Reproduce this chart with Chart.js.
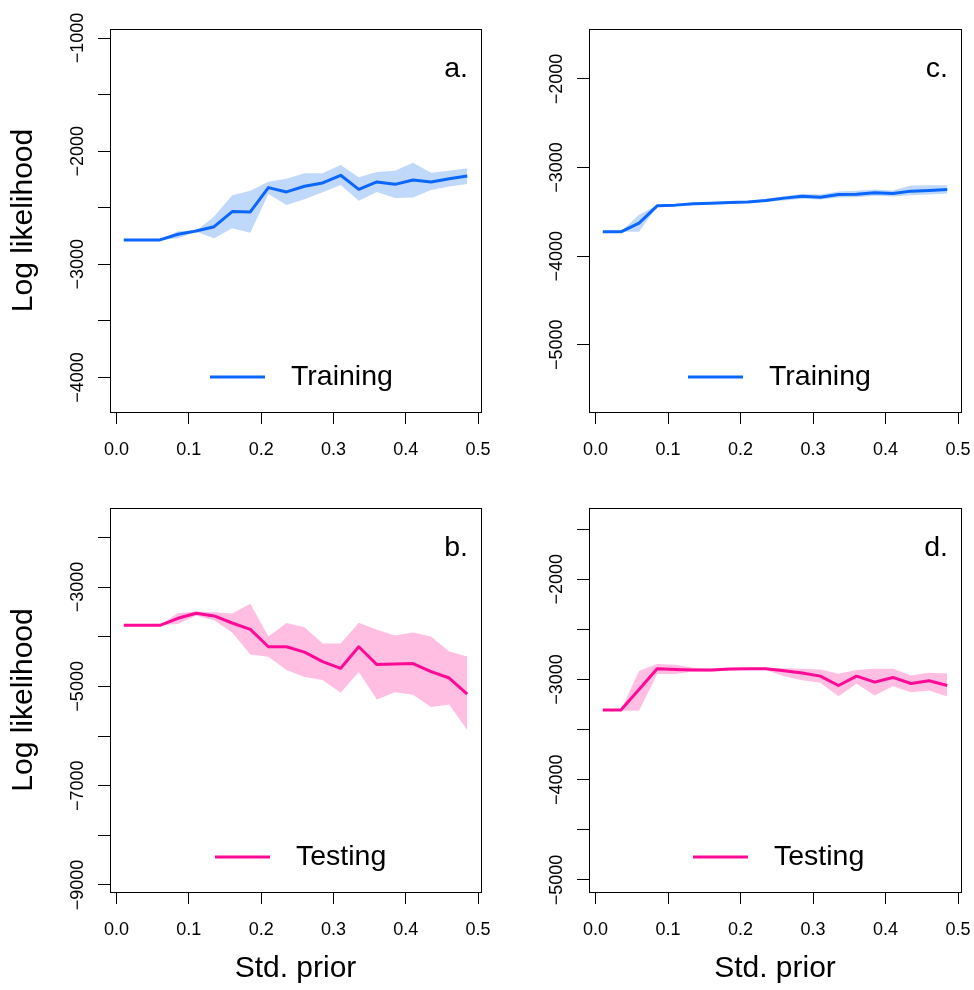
<!DOCTYPE html>
<html>
<head>
<meta charset="utf-8">
<script src="https://cdn.jsdelivr.net/npm/chart.js@4.4.0/dist/chart.umd.min.js"></script>
<style>
    html, body { margin: 0; padding: 0; background: #fff; }
    #wrap { position: relative; width: 974px; height: 990px; }
    .panel { position: absolute; }
</style>
</head>
<body>
<div id="wrap">
    <canvas id="pa" class="panel" width="500" height="480" style="left:0;top:0"></canvas>
    <canvas id="pc" class="panel" width="487" height="480" style="left:487px;top:0"></canvas>
    <canvas id="pb" class="panel" width="500" height="510" style="left:0;top:480px"></canvas>
    <canvas id="pd" class="panel" width="487" height="510" style="left:487px;top:480px"></canvas>
</div>
<script>
// values
const stdPrior = [0.010, 0.035, 0.060, 0.085, 0.110, 0.135, 0.160, 0.185, 0.210, 0.235,
                  0.260, 0.285, 0.310, 0.335, 0.360, 0.385, 0.410, 0.435, 0.460, 0.485];

const trainA   = [-2784, -2784, -2784, -2734, -2705, -2667, -2534, -2537, -2322, -2360,
                  -2310, -2281, -2213, -2337, -2272, -2293, -2254, -2272, -2243, -2219];
const trainAHi = [-2784, -2784, -2784, -2708, -2705, -2578, -2390, -2349, -2269, -2243,
                  -2196, -2196, -2122, -2231, -2184, -2172, -2101, -2190, -2172, -2151];
const trainALo = [-2784, -2784, -2784, -2770, -2711, -2770, -2681, -2720, -2378, -2475,
                  -2425, -2363, -2299, -2437, -2360, -2413, -2410, -2343, -2313, -2290];

const testB   = [-3771, -3771, -3771, -3629, -3528, -3582, -3724, -3852, -4203, -4203,
                 -4311, -4501, -4636, -4203, -4561, -4548, -4541, -4703, -4832, -5156];
const testBHi = [-3771, -3771, -3771, -3521, -3494, -3507, -3534, -3338, -3994, -3724,
                 -3811, -4136, -4136, -3717, -3859, -3974, -3913, -3994, -4298, -4399];
const testBLo = [-3771, -3771, -3771, -3744, -3575, -3670, -3913, -4359, -4406, -4670,
                 -4811, -4872, -5129, -4710, -5264, -5116, -5170, -5413, -5366, -5886];

const trainC   = [-3725, -3725, -3627, -3432, -3424, -3409, -3402, -3394, -3390, -3372,
                  -3345, -3323, -3334, -3304, -3300, -3285, -3293, -3266, -3259, -3248];
const trainCHi = [-3725, -3725, -3533, -3424, -3417, -3402, -3394, -3387, -3379, -3353,
                  -3323, -3297, -3304, -3270, -3263, -3248, -3259, -3203, -3199, -3199];
const trainCLo = [-3725, -3725, -3725, -3439, -3432, -3417, -3409, -3402, -3398, -3387,
                  -3372, -3353, -3360, -3338, -3334, -3319, -3327, -3312, -3304, -3293];

const testD   = [-3305, -3305, -3101, -2893, -2900, -2906, -2906, -2896, -2893, -2893,
                 -2913, -2936, -2967, -3060, -2967, -3027, -2980, -3040, -3013, -3060];
const testDHi = [-3305, -3305, -2916, -2846, -2853, -2883, -2893, -2886, -2886, -2886,
                 -2889, -2893, -2900, -2943, -2906, -2893, -2893, -2960, -2933, -2940];
const testDLo = [-3305, -3312, -3312, -2946, -2946, -2920, -2920, -2910, -2906, -2906,
                 -2967, -3007, -3033, -3168, -3044, -3161, -3067, -3127, -3111, -3171];

const xTicks = [0, 0.1, 0.2, 0.3, 0.4, 0.5];

const yTicksA  = [-1000, -1500, -2000, -2500, -3000, -3500, -4000];
const yLabelsA = [-1000, -2000, -3000, -4000];
const yTicksB  = [-2000, -3000, -4000, -5000, -6000, -7000, -8000, -9000];
const yLabelsB = [-3000, -5000, -7000, -9000];
const yTicksC  = [-2000, -3000, -4000, -5000];
const yLabelsC = [-2000, -3000, -4000, -5000];
const yTicksD  = [-1500, -2000, -2500, -3000, -3500, -4000, -4500, -5000];
const yLabelsD = [-2000, -3000, -4000, -5000];

const FONT = "'Liberation Sans', Arial, Helvetica, sans-serif";
Chart.defaults.font.family = FONT;
Chart.defaults.color = "#000";

const BLUE = "#0a66ff", BLUE_BAND = "#c0d8fa";
const PINK = "#ff0a96", PINK_BAND = "#ffbee2";

function pts(ys) {
    return ys.map((y, i) => ({ x: stdPrior[i], y }));
}

// R-style box, rotated y labels, legend and panel letter
const rFrame = {
    id: "rFrame",
    afterDraw(chart, args, o) {
        const { ctx, chartArea: a } = chart;
        const y = chart.scales.y;
        ctx.save();
        ctx.strokeStyle = "#000";
        ctx.lineWidth = 1;
        ctx.strokeRect(Math.round(a.left) + 0.5, Math.round(a.top) + 0.5,
            Math.round(a.right - a.left), Math.round(a.bottom - a.top));

        ctx.fillStyle = "#000";
        ctx.font = `18px ${FONT}`;
        ctx.textAlign = "center";
        ctx.textBaseline = "alphabetic";
        o.yLabels.forEach(v => {
            ctx.save();
            ctx.translate(a.left - 27, y.getPixelForValue(v));
            ctx.rotate(-Math.PI / 2);
            ctx.fillText("\u2212" + Math.abs(v), 0, 0);
            ctx.restore();
        });

        // legend
        const ly = a.bottom - 35;
        ctx.strokeStyle = o.color;
        ctx.lineWidth = 3;
        ctx.beginPath();
        ctx.moveTo(a.left + o.legX, ly);
        ctx.lineTo(a.left + o.legX + 55, ly);
        ctx.stroke();
        ctx.font = `28.5px ${FONT}`;
        ctx.textAlign = "left";
        ctx.textBaseline = "middle";
        ctx.fillText(o.label, a.left + o.legX + 81, ly);

        ctx.textAlign = "right";
        ctx.textBaseline = "alphabetic";
        ctx.fillText(o.letter, a.right - 13, a.top + 48);
        ctx.restore();
    },
};

function noPad(s) {
    s.paddingLeft = 0;
    s.paddingRight = 0;
    s.paddingTop = 0;
    s.paddingBottom = 0;
}

function makePanel(id, p) {
    const canvas = document.getElementById(id);
    const xAxisH = canvas.height - p.bottom;
    return new Chart(canvas.getContext("2d"), {
        type: "line",
        data: {
            datasets: [
                { data: pts(p.hi), borderWidth: 0, borderColor: "transparent", pointRadius: 0,
                  backgroundColor: p.band, fill: "+1", order: 1 },
                { data: pts(p.lo), borderWidth: 0, borderColor: "transparent", pointRadius: 0,
                  fill: false, order: 1 },
                { data: pts(p.mid), borderColor: p.color, borderWidth: 3, pointRadius: 0,
                  fill: false, tension: 0, borderJoinStyle: "round", order: 0 },
            ],
        },
        options: {
            responsive: false,
            animation: false,
            events: [],
            layout: { padding: { top: p.top, right: canvas.width - p.right, left: 0, bottom: 0 } },
            scales: {
                x: {
                    type: "linear",
                    min: -0.009, max: 0.504,
                    bounds: "data",
                    afterBuildTicks: s => { s.ticks = xTicks.map(v => ({ value: v })); },
                    afterFit: s => { s.height = xAxisH; noPad(s); },
                    grid: { display: true, drawOnChartArea: false, drawTicks: true,
                            tickLength: 12, color: "#000", lineWidth: 1 },
                    border: { display: true, color: "#000", width: 1 },
                    ticks: { padding: 15, font: { size: 18 }, maxRotation: 0,
                             callback: v => v.toFixed(1) },
                    title: { display: p.xTitle, text: "Std. prior", font: { size: 30 },
                             padding: { top: 0, bottom: 3 } },
                },
                y: {
                    type: "linear",
                    min: p.ymin, max: p.ymax,
                    bounds: "data",
                    afterBuildTicks: s => { s.ticks = p.yTicks.map(v => ({ value: v })); },
                    afterFit: s => { s.width = p.left; noPad(s); },
                    grid: { display: true, drawOnChartArea: false, drawTicks: true,
                            tickLength: 12, color: "#000", lineWidth: 1 },
                    border: { display: true, color: "#000", width: 1 },
                    ticks: { display: false },
                    title: { display: p.yTitle, text: "Log likelihood", font: { size: 30 },
                             padding: { top: 6, bottom: 0 } },
                },
            },
            plugins: {
                legend: { display: false },
                tooltip: { enabled: false },
                rFrame: { yLabels: p.yLabels, color: p.color, label: p.label,
                          letter: p.letter, legX: p.legX },
            },
        },
        plugins: [rFrame],
    });
}

makePanel("pa", {
    mid: trainA, hi: trainAHi, lo: trainALo, color: BLUE, band: BLUE_BAND,
    ymin: -4305, ymax: -920, yTicks: yTicksA, yLabels: yLabelsA,
    left: 110, right: 481, top: 29, bottom: 412,
    yTitle: true, xTitle: false, label: "Training", letter: "a.", legX: 100,
});
makePanel("pc", {
    mid: trainC, hi: trainCHi, lo: trainCLo, color: BLUE, band: BLUE_BAND,
    ymin: -5759, ymax: -1436, yTicks: yTicksC, yLabels: yLabelsC,
    left: 102, right: 474, top: 29, bottom: 412,
    yTitle: false, xTitle: false, label: "Training", letter: "c.", legX: 99,
});
makePanel("pb", {
    mid: testB, hi: testBHi, lo: testBLo, color: PINK, band: PINK_BAND,
    ymin: -9141, ymax: -1408, yTicks: yTicksB, yLabels: yLabelsB,
    left: 110, right: 481, top: 28, bottom: 412,
    yTitle: true, xTitle: true, label: "Testing", letter: "b.", legX: 105,
});
makePanel("pd", {
    mid: testD, hi: testDHi, lo: testDLo, color: PINK, band: PINK_BAND,
    ymin: -5120, ymax: -1290, yTicks: yTicksD, yLabels: yLabelsD,
    left: 102, right: 474, top: 28, bottom: 412,
    yTitle: false, xTitle: true, label: "Testing", letter: "d.", legX: 104,
});
</script>
</body>
</html>
